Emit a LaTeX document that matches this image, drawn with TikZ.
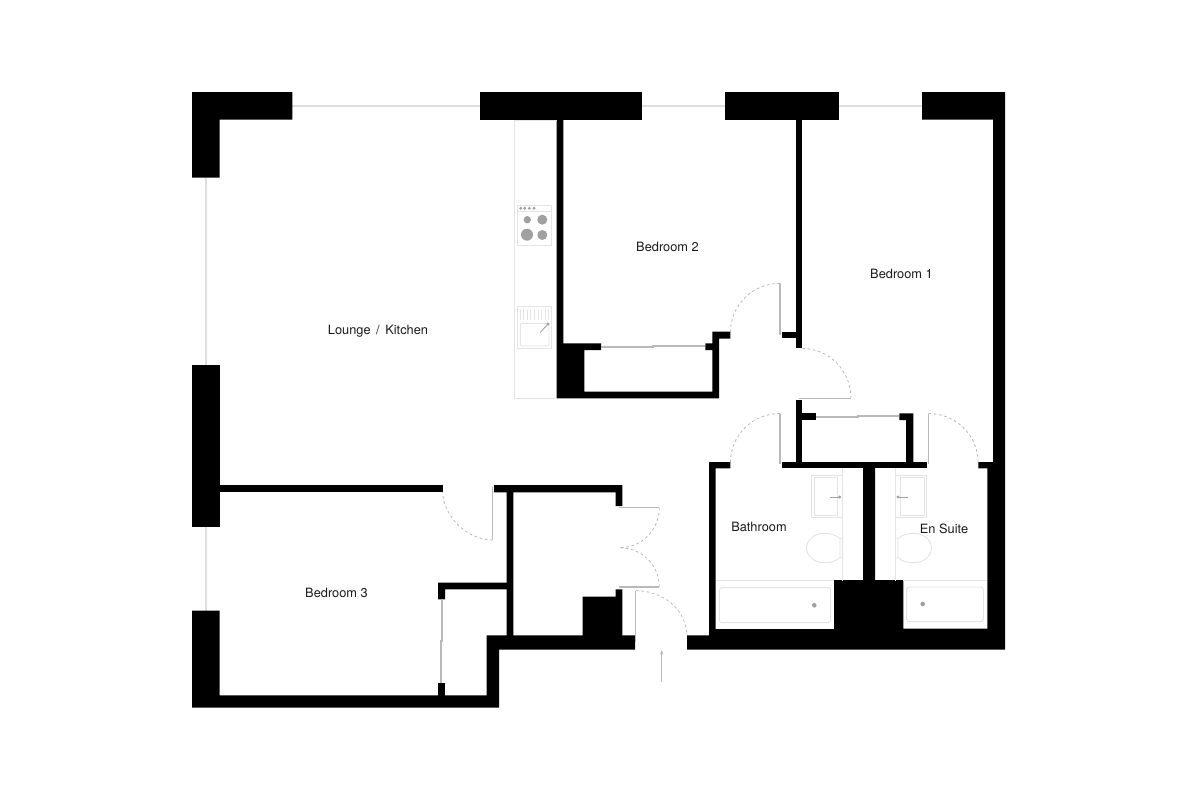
\documentclass[tikz,border=0pt]{standalone}
\usepackage{fontspec}
\setmainfont{TeX Gyre Heros}
\usetikzlibrary{arrows.meta}
\definecolor{glassgrey}{RGB}{222,222,222}
\definecolor{leafgrey}{RGB}{185,185,185}
\definecolor{fitgrey}{RGB}{228,228,228}
\definecolor{dotgrey}{RGB}{160,160,160}
\tikzset{every picture/.style={line width=0.75pt}}
\tikzset{
  wall/.style={fill=black,draw=none},
  glass/.style={draw=glassgrey,line width=1.5pt},
  leaf/.style={draw=leafgrey,line width=1.1pt},
  swing/.style={draw=leafgrey,line width=0.6pt,dash pattern=on 2pt off 2pt},
  fit/.style={draw=fitgrey,line width=0.7pt},
  tap/.style={draw=dotgrey,line width=0.6pt},
  knob/.style={fill=dotgrey,draw=none},
  roomlabel/.style={inner sep=0.75pt,text=black!90,font=\fontsize{9.6}{12}\selectfont}
}

\begin{document}
\begin{tikzpicture}[x=0.75pt,y=0.75pt,yscale=-1,xscale=1]
\useasboundingbox (0,0) rectangle (1200,800);

%Windows
\draw [glass] (292,105.5) -- (480,105.5) ;
\draw [glass] (642,105.5) -- (725,105.5) ;
\draw [glass] (839,105.5) -- (922,105.5) ;
\draw [glass] (205.5,178) -- (205.5,365) ;
\draw [glass] (205.5,527) -- (205.5,611) ;

%Shape: top left corner
\path [wall] (192,92) -- (292.3,92) -- (292.3,119.5) -- (219.5,119.5) -- (219.5,177.7) -- (192,177.7) -- cycle ;
%Shape: top piers
\path [wall] (479.5,92) rectangle (641.7,119.5) ;
\path [wall] (725,92) rectangle (839,119.5) ;
%Shape: right and bottom outer wall
\path [wall] (922,92) -- (1005,92) -- (1005,649.5) -- (687,649.5) -- (687,635.3) -- (709,635.3) -- (709,462) -- (730.3,462) -- (730.3,468.3) -- (715.7,468.3) -- (715.7,629) -- (834,629) -- (834,580) -- (863,580) -- (863,467) -- (875,467) -- (875,580) -- (903.3,580) -- (903.3,628.5) -- (987.3,628.5) -- (987.3,468.3) -- (978.3,468.3) -- (978.3,462) -- (993,462) -- (993,119.5) -- (922,119.5) -- cycle ;
%Shape: left pier and bedroom 3 party wall
\path [wall] (192,365) rectangle (219.5,527.3) ;
\path [wall] (219,484.7) rectangle (442.7,492) ;
%Shape: bedroom 3 corner and hall wall
\path [wall] (192,610.7) -- (219.5,610.7) -- (219.5,695.3) -- (486.7,695.3) -- (486.7,635.3) -- (635,635.3) -- (635,649.5) -- (499,649.5) -- (499,707.7) -- (192,707.7) -- cycle ;
%Shape: bedroom 2 wall and wardrobe
\path [wall] (556.7,119) -- (563.3,119) -- (563.3,343.3) -- (601,343.3) -- (601,350) -- (584.3,350) -- (584.3,391.7) -- (712.3,391.7) -- (712.3,350) -- (705.3,350) -- (705.3,343.3) -- (712.3,343.3) -- (712.3,331.7) -- (730.3,331.7) -- (730.3,338.5) -- (719,338.5) -- (719,398.3) -- (556.7,398.3) -- cycle ;
%Shape: bedroom 1 wall
\path [wall] (795.7,119) rectangle (802.3,348.3) ;
\path [wall] (781.7,331.7) rectangle (796,338.3) ;
%Shape: wardrobe off the hall
\path [wall] (795.7,400) rectangle (802.3,463) ;
\path [wall] (802,413.3) rectangle (816,420) ;
\path [wall] (899.3,413.3) -- (913.3,413.3) -- (913.3,463) -- (906,463) -- (906,420) -- (899.3,420) -- cycle ;
\path [wall] (781.7,462) rectangle (926.7,468.3) ;
%Shape: cupboard walls
\path [wall] (494,485) -- (622.3,485) -- (622.3,506) -- (615.7,506) -- (615.7,492.3) -- (513.3,492.3) -- (513.3,636) -- (506.7,636) -- (506.7,492.3) -- (494,492.3) -- cycle ;
\path [wall] (438,582.7) -- (507,582.7) -- (507,589.3) -- (445,589.3) -- (445,599.3) -- (438,599.3) -- cycle ;
\path [wall] (438,683.3) rectangle (445,696) ;
\path [wall] (582.7,596.7) -- (615.7,596.7) -- (615.7,589.3) -- (622.3,589.3) -- (622.3,636) -- (582.7,636) -- cycle ;

%Sliding doors
\draw [leaf] (601,346.8) -- (653,346.8) -- (653,346.2) -- (705.3,346.2) ;
\draw [leaf] (816,416.8) -- (858,416.8) -- (858,416.2) -- (899.3,416.2) ;
\draw [leaf] (441.8,599.3) -- (441.8,641) -- (441.2,641) -- (441.2,683.3) ;

%Door leaves
\draw [leaf] (780,283.3) -- (780,335) ;
\draw [leaf] (799,398.3) -- (851,398.3) ;
\draw [leaf] (780,413.5) -- (780,464) ;
\draw [leaf] (928.5,413.5) -- (928.5,464) ;
\draw [leaf] (492.7,487) -- (492.7,540) ;
\draw [leaf] (619,507.7) -- (659.3,507.7) ;
\draw [leaf] (619,587) -- (659.3,587) ;
\draw [leaf] (635.3,590.7) -- (635.3,642) ;

%Door swings
\draw [swing] (780,283.3) .. controls (752.7,283.3) and (730.5,305.1) .. (730.5,332) ;
\draw [swing] (851,398.3) .. controls (851,370.8) and (829.3,348.5) .. (802.5,348.5) ;
\draw [swing] (780,413.5) .. controls (752.7,413.5) and (730.5,435.2) .. (730.5,462) ;
\draw [swing] (928.5,413.5) .. controls (955.8,413.5) and (978,435.2) .. (978,462) ;
\draw [swing] (492.7,540) .. controls (465,540) and (442.7,513.5) .. (442.7,492) ;
\draw [swing] (659.3,507.7) .. controls (659.3,529.8) and (641.7,547.7) .. (620,547.7) ;
\draw [swing] (659.3,587) .. controls (659.3,565.3) and (641.7,547.7) .. (620,547.7) ;
\draw [swing] (636,590.7) .. controls (664,590.7) and (686.7,610.7) .. (686.7,635.3) ;

%Kitchen worktop
\draw [fit] (556.7,120) -- (514.3,120) -- (514.3,398.3) -- (556.7,398.3) ;
%Shape: hob
\draw [fit] (517.3,205.3) rectangle (551.7,245.3) ;
\draw [fit] (517.3,211.3) -- (551.7,211.3) ;
\foreach \dotx in {520.7,524.7,529.3,534} {
  \fill [knob] (\dotx,208.3) circle (1.6) ;
}
\fill [knob] (527.3,219.7) circle (3.7) ;
\fill [knob] (542.3,219.7) circle (5) ;
\fill [knob] (527,234.7) circle (6) ;
\fill [knob] (542.3,235) circle (5) ;
%Shape: kitchen sink
\draw [fit] (517.3,306.3) rectangle (551.7,348.3) ;
\foreach \ribx in {520,523.6,...,549.5} {
  \draw [fit] (\ribx,309) -- (\ribx,320) ;
}
\draw [fit,rounded corners=1.5] (520.3,323.3) rectangle (549,346) ;
\draw [tap] (548,324) -- (540,332.7) ;
\fill [knob] (548,324) circle (1.6) ;

%Bathroom fittings
\draw [fit] (842.7,468) -- (842.7,580.7) ;
\draw [fit] (716,580.7) -- (834,580.7) ;
\draw [fit] (842.7,475.7) -- (811.3,475.7) -- (811.3,517.3) -- (842.7,517.3) ;
\draw [fit] (814,477.7) rectangle (837.7,515) ;
\draw [tap] (830,497) -- (840,497) ;
\fill [knob] (839.7,497) circle (1.6) ;
\draw [fit] (840,557.5) .. controls (835,562) and (830,562.7) .. (824,562.7) .. controls (814.3,562.7) and (806.5,556) .. (806.5,548) .. controls (806.5,540) and (814.3,533.3) .. (824,533.3) .. controls (830,533.3) and (836,535) .. (840,538.5) -- cycle ;
\draw [fit] (840,538.5) -- (842.7,538.5) ;
\draw [fit] (840,557.5) -- (842.7,557.5) ;
\draw [fit,rounded corners=2] (719.3,587.7) rectangle (830.7,622.7) ;
\fill [knob] (814.3,605.3) circle (2.3) ;

%En suite fittings
\draw [fit] (895.3,468) -- (895.3,580.7) ;
\draw [fit] (903.3,580.7) -- (987.3,580.7) ;
\draw [fit] (895.3,475.7) -- (926.7,475.7) -- (926.7,517.3) -- (895.3,517.3) ;
\draw [fit] (900,477.7) rectangle (924.3,515) ;
\draw [tap] (898,497) -- (908,497) ;
\fill [knob] (898,497) circle (1.6) ;
\draw [fit] (898,557.5) .. controls (903,562) and (908,562.7) .. (914,562.7) .. controls (923.7,562.7) and (931.5,556) .. (931.5,548) .. controls (931.5,540) and (923.7,533.3) .. (914,533.3) .. controls (908,533.3) and (902,535) .. (898,538.5) -- cycle ;
\draw [fit] (898,538.5) -- (895.3,538.5) ;
\draw [fit] (898,557.5) -- (895.3,557.5) ;
\draw [fit,rounded corners=2] (906.7,587) rectangle (983.3,621.7) ;
\fill [knob] (922.7,604) circle (2.3) ;

%Entrance arrow
\coordinate (entrystart) at (661.7,682) ;
\coordinate (entryend) at (661.7,650) ;
\draw [draw=leafgrey,line width=0.6pt,-{Stealth[length=3.5pt,width=2.5pt]}] (entrystart) -- (entryend) ;

% Text Node
\draw (378,331) node (lounge) [roomlabel] {Lounge\hspace{1.5pt} /\hspace{1.5pt} Kitchen};
% Text Node
\draw (667.5,247) node (bedroomtwo) [roomlabel] {Bedroom 2};
% Text Node
\draw (901.5,274) node (bedroomone) [roomlabel] {Bedroom 1};
% Text Node
\draw (759,527) node (bathroom) [roomlabel] {Bathroom};
% Text Node
\draw (944,528.5) node (ensuite) [roomlabel] {En Suite};
% Text Node
\draw (336.5,593) node (bedroomthree) [roomlabel] {Bedroom 3};

\end{tikzpicture}
\end{document}
